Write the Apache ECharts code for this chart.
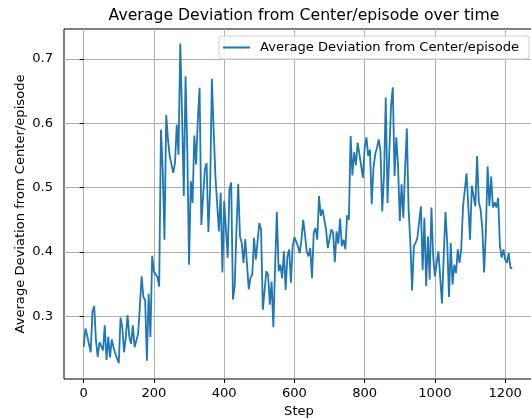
<!DOCTYPE html>
<html>
<head>
<meta charset="utf-8">
<script src="https://cdn.jsdelivr.net/npm/echarts@6/dist/echarts.min.js"></script>
<style>
  html, body { margin: 0; padding: 0; background: #fff; }
  #chart { width: 531px; height: 419px; }
</style>
</head>
<body>
<div id="chart"></div>
<script>
// one point every 5 steps
const stepSize = 5;
const deviation = [
  0.252,0.281,0.270,0.273,0.244,0.307,0.316,0.262,0.237,0.260,
  0.257,0.247,0.286,0.232,0.268,0.236,0.264,0.252,0.242,0.244,
  0.227,0.298,0.283,0.244,0.268,0.302,0.268,0.257,0.286,0.252,
  0.255,0.273,0.315,0.362,0.330,0.325,0.231,0.335,0.268,0.394,
  0.369,0.372,0.361,0.346,
  0.590,0.528,0.419,0.613,0.575,0.549,0.550,0.523,0.538,0.598,
  0.551,0.724,0.616,0.487,0.673,0.559,0.380,0.510,0.476,0.581,
  0.536,0.606,0.655,0.442,0.487,0.528,0.538,0.431,0.497,0.669,
  0.590,0.518,0.520,0.432,0.492,0.368,0.479,0.435,0.391,0.497,
  0.508,0.326,0.347,0.435,0.506,0.424,0.414,0.383,0.420,0.420,
  0.342,0.360,0.365,0.422,0.388,0.388,0.445,
  0.435,0.310,0.310,0.370,0.365,0.318,0.354,0.283,0.378,0.462,
  0.370,0.380,0.359,0.401,0.341,0.393,0.404,0.352,0.409,0.423,
  0.424,0.409,0.398,0.419,0.450,0.427,0.401,0.393,0.406,0.359,
  0.430,0.437,0.419,0.487,0.456,0.466,0.467,0.435,0.406,0.409,
  0.435,0.430,0.384,0.432,0.413,0.452,0.409,0.419,0.404,0.457,
  0.450,
  0.580,0.519,0.555,0.535,0.570,0.552,0.554,0.515,0.562,0.578,
  0.549,0.559,0.474,0.531,0.552,0.562,0.575,0.557,0.463,0.518,
  0.640,0.476,0.552,0.627,0.656,0.518,0.578,0.534,0.448,0.505,
  0.453,0.528,0.592,0.466,0.414,0.340,0.409,0.414,0.422,0.419,
  0.471,0.372,0.453,0.347,0.424,0.357,0.469,0.393,0.362,0.383,
  0.401,0.360,0.320,0.393,0.462,0.414,0.330,0.414,0.349,0.380,
  0.367,0.404,0.383,0.406,0.471,0.469,0.522,0.471,0.419,0.503,
  0.500,0.471,0.549,0.477,0.466,0.435,0.368,0.432,0.533,0.471,
  0.517,0.469,0.477,0.469,0.484,0.409,0.391,0.404,0.388,0.383,
  0.398,0.375,0.375
];
const xTicks = [0, 200, 400, 600, 800, 1000, 1200];
const yTicks = [0.3, 0.4, 0.5, 0.6, 0.7];

const seriesName = 'Average Deviation from Center/episode';
const points = deviation.map(function (v, i) { return [i * stepSize, v]; });

const font = 'DejaVu Sans';
const chart = echarts.init(document.getElementById('chart'), null, { renderer: 'canvas' });

const option = {
  animation: false,
  backgroundColor: '#fff',
  title: {
    text: 'Average Deviation from Center/episode over time',
    left: 299,
    top: 3,
    textAlign: 'center',
    textStyle: { fontFamily: font, fontSize: 15.7, fontWeight: 'normal', color: '#000' }
  },
  legend: {
    data: [seriesName],
    left: 219,
    top: 36,
    padding: [5, 10, 5, 4],
    borderColor: '#d0d0d0',
    borderWidth: 1,
    borderRadius: 3,
    backgroundColor: 'rgba(255,255,255,0.8)',
    icon: 'rect',
    itemWidth: 27,
    itemHeight: 2,
    textStyle: { fontFamily: font, fontSize: 13.1, color: '#000', padding: [0, 0, 0, 5] }
  },
  grid: {
    left: 64,
    right: -3,
    top: 29,
    bottom: 40,
    outerBoundsMode: 'none',
    show: true,
    borderColor: '#000',
    borderWidth: 1
  },
  xAxis: {
    type: 'value',
    min: -56,
    max: 1282,
    splitNumber: 7,
    name: 'Step',
    nameLocation: 'middle',
    nameGap: 26,
    nameMoveOverlap: false,
    nameTextStyle: { fontFamily: font, fontSize: 13.1, color: '#000' },
    axisLine: { show: false },
    axisTick: { show: true, length: 4, customValues: xTicks, lineStyle: { color: '#000' } },
    axisLabel: {
      customValues: xTicks,
      margin: 8,
      fontFamily: font,
      fontSize: 13.1,
      color: '#000',
      formatter: function (v) { return String(v); }
    },
    splitLine: { show: true, lineStyle: { color: '#b0b0b0', width: 1 } }
  },
  yAxis: {
    type: 'value',
    min: 0.2025,
    max: 0.7465,
    splitNumber: 5,
    name: 'Average Deviation from Center/episode',
    nameLocation: 'middle',
    nameGap: 37,
    nameMoveOverlap: false,
    nameTextStyle: { fontFamily: font, fontSize: 13.1, color: '#000' },
    axisLine: { show: false },
    axisTick: { show: true, length: 4, customValues: yTicks, lineStyle: { color: '#000' } },
    axisLabel: {
      customValues: yTicks,
      margin: 11,
      fontFamily: font,
      fontSize: 13.1,
      color: '#000',
      formatter: function (v) { return v.toFixed(1); }
    },
    splitLine: { show: true, lineStyle: { color: '#b0b0b0', width: 1 } }
  },
  series: [{
    name: seriesName,
    type: 'line',
    data: points,
    showSymbol: false,
    lineStyle: { color: '#1f77b4', width: 1.8 },
    itemStyle: { color: '#1f77b4' }
  }]
};
chart.setOption(option);
</script>
</body>
</html>
